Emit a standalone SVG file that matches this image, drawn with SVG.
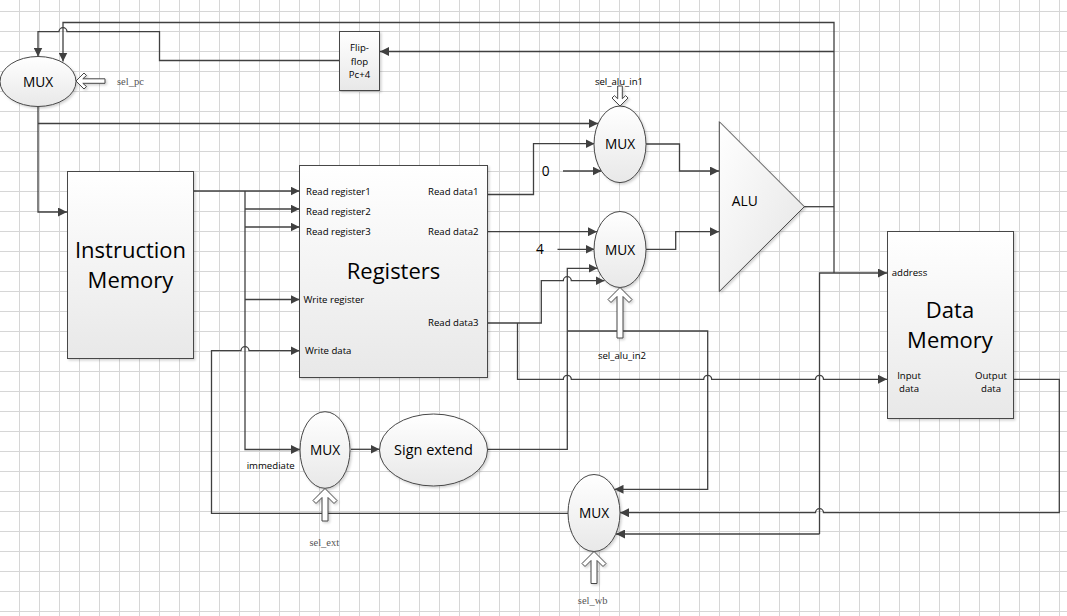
<svg xmlns="http://www.w3.org/2000/svg" width="1067" height="616" viewBox="0 0 1067 616">
<defs>
<pattern id="grid" width="20" height="20" patternUnits="userSpaceOnUse" x="19" y="11">
<rect x="0" y="0" width="1" height="20" fill="#d6d6d6"/>
<rect x="0" y="0" width="20" height="1" fill="#d6d6d6"/>
</pattern>
<linearGradient id="gv" x1="0" y1="0" x2="0" y2="1">
<stop offset="0" stop-color="#ffffff"/>
<stop offset="1" stop-color="#e8e8e8"/>
</linearGradient>
<linearGradient id="gd" x1="0" y1="0" x2="1" y2="1">
<stop offset="0" stop-color="#ffffff"/>
<stop offset="1" stop-color="#e4e4e4"/>
</linearGradient>
<filter id="sh" x="-10%" y="-10%" width="130%" height="130%">
<feDropShadow dx="1.5" dy="1.5" stdDeviation="1" flood-color="#000" flood-opacity="0.18"/>
</filter>
<marker id="ar" markerWidth="10" markerHeight="9" refX="9" refY="4.5" orient="auto" markerUnits="userSpaceOnUse">
<path d="M0,0 L9,4.5 L0,9 Z" fill="#404040"/>
</marker>
<style>
.con{fill:none;stroke:#404040;stroke-width:1.3}
.arr{marker-end:url(#ar)}
.shape{fill:url(#gv);stroke:#474747;stroke-width:1;filter:url(#sh)}
.hol{fill:#ffffff;stroke:#474747;stroke-width:1;filter:url(#sh)}
text{font-family:"Open Sans","Noto Sans","Liberation Sans",sans-serif;fill:#000000}
.big{font-size:22px;text-anchor:middle}
.mux{font-size:13.7px;text-anchor:middle}
.sm{font-size:9.6px}
.smc{font-size:9.6px;text-anchor:middle}
.smr{font-size:9.6px;text-anchor:end}
.ser{font-family:"Liberation Serif","DejaVu Serif",serif;font-size:10.5px;fill:#555555}
</style>
</defs>
<rect x="0" y="0" width="1067" height="616" fill="#ffffff"/>
<rect x="0" y="0" width="1067" height="616" fill="url(#grid)"/>

<g id="connectors">
<path class="con" d="M804,206.7 H834"/>
<path class="con arr" d="M834,273 V22.5 H63 V61.5"/>
<path class="con arr" d="M819.5,534 V273 H887"/>
<path class="con arr" d="M819.5,534 H616"/>
<path class="con arr" d="M834,51.5 H380"/>
<path class="con arr" d="M339,60.5 H159.5 V31.7 H67 A4,4 0 0 0 59,31.7 H38 V56.5"/>
<path class="con arr" d="M38,106.5 V212 H67"/>
<path class="con arr" d="M38,123.5 H598"/>
<path class="con arr" d="M193.5,191 H299.5"/>
<path class="con arr" d="M245,191 V449.5 H300"/>
<path class="con arr" d="M245,209 H299.5"/>
<path class="con arr" d="M245,227 H299.5"/>
<path class="con arr" d="M245,299.5 H299.5"/>
<path class="con arr" d="M568,513.3 H211.5 V350.7 H241 A4,4 0 0 1 249,350.7 H299.5"/>
<path class="con arr" d="M487.5,194.5 H533.5 V143.7 H594.5"/>
<path class="con arr" d="M563,171 H601.5"/>
<path class="con arr" d="M646,144 H679.5 V171 H719"/>
<path class="con arr" d="M487.5,231.7 H597"/>
<path class="con arr" d="M557.5,249.3 H594.5"/>
<path class="con arr" d="M646,249.3 H675.7 V231.7 H719"/>
<path class="con arr" d="M487.5,323 H541.3 V280.7 H563.3 A4,4 0 0 1 571.3,280.7 H604.5"/>
<path class="con arr" d="M517.5,323 V379.3 H563.3 A4,4 0 0 1 571.3,379.3 H703.7 A4,4 0 0 1 711.7,379.3 H815.5 A4,4 0 0 1 823.5,379.3 H887"/>
<path class="con arr" d="M487.7,449.3 H567.3 V268.3 H597.5"/>
<path class="con arr" d="M567.3,331 H707.7 V489.3 H614.5"/>
<path class="con arr" d="M1013.5,379.3 H1059.3 V512.7 H823.5 A4,4 0 0 0 815.5,512.7 H620"/>
<path class="con arr" d="M351,449.3 H379.5"/>
</g>

<g id="mux-pc">
<ellipse class="shape" cx="38" cy="81.5" rx="38" ry="25"/>
<text class="mux" x="38" y="86.5">MUX</text>
</g>
<g id="sel-pc">
<path class="hol" d="M76,81 L84,73 L86.5,75.5 L82.8,78.8 H105 V83.3 H82.8 L86.5,86.5 L84,89 Z"/>
<text class="ser" x="117" y="84.5">sel_pc</text>
</g>

<g id="flipflop">
<rect class="shape" x="339.5" y="31.5" width="40" height="59"/>
<text class="smc" x="359.5" y="51">Flip-</text>
<text class="smc" x="359.5" y="64.5">flop</text>
<text class="smc" x="359.5" y="77.5">Pc+4</text>
</g>

<g id="instruction-memory">
<rect class="shape" x="67.5" y="171.5" width="126" height="187"/>
<text class="big" x="130.5" y="257.5">Instruction</text>
<text class="big" x="130.5" y="287.5">Memory</text>
</g>

<g id="registers">
<rect class="shape" x="299.5" y="165.5" width="188" height="212"/>
<text class="big" x="393.5" y="278.5">Registers</text>
<text class="sm" x="306" y="195">Read register1</text>
<text class="sm" x="306" y="215">Read register2</text>
<text class="sm" x="306" y="234.5">Read register3</text>
<text class="sm" x="303.5" y="302.5">Write register</text>
<text class="sm" x="305" y="354">Write data</text>
<text class="smr" x="478.5" y="195">Read data1</text>
<text class="smr" x="478.5" y="234.5">Read data2</text>
<text class="smr" x="478.5" y="325.5">Read data3</text>
</g>

<g id="mux-alu-in1">
<ellipse class="shape" cx="620" cy="144.3" rx="26" ry="38.3"/>
<text class="mux" x="620" y="149.3">MUX</text>
</g>
<g id="sel-alu-in1">
<path class="hol" d="M620,106 L628,98 L625.6,95.6 L622.3,98.8 V86 H617.7 V98.8 L614.4,95.6 L612,98 Z"/>
<text class="smc" x="619" y="85">sel_alu_in1</text>
</g>
<g id="const-0">
<text class="mux" x="545.7" y="176">0</text>
</g>

<g id="mux-alu-in2">
<ellipse class="shape" cx="620" cy="249.5" rx="26" ry="38"/>
<text class="mux" x="620" y="254.5">MUX</text>
</g>
<g id="sel-alu-in2">
<path class="hol" d="M620,287.5 L632,299.5 L629,302.5 L623,296.5 V338 H617 V296.5 L611,302.5 L608,299.5 Z"/>
<text class="smc" x="622" y="359">sel_alu_in2</text>
</g>
<g id="const-4">
<text class="mux" x="540" y="254">4</text>
</g>

<g id="alu">
<polygon points="719.3,121.7 804.3,206.7 719.3,291.5" fill="url(#gd)" stroke="#474747" stroke-width="1" filter="url(#sh)"/>
<text x="744.7" y="205.5" style="font-size:13.8px;text-anchor:middle">ALU</text>
</g>

<g id="data-memory">
<rect class="shape" x="887.5" y="231.5" width="126" height="187"/>
<text class="big" x="950" y="317.5">Data</text>
<text class="big" x="950" y="348">Memory</text>
<text class="sm" x="891.7" y="276">address</text>
<text class="smc" x="909" y="379">Input</text>
<text class="smc" x="909" y="391.5">data</text>
<text class="smc" x="991" y="379">Output</text>
<text class="smc" x="991" y="391.5">data</text>
</g>

<g id="mux-ext">
<ellipse class="shape" cx="325" cy="450" rx="25" ry="38.3"/>
<text class="mux" x="325" y="455">MUX</text>
<text class="sm" x="246.7" y="468.5">immediate</text>
</g>
<g id="sel-ext">
<path class="hol" d="M325,488.5 L337,500.5 L334,503.5 L328,497.5 V521 H322 V497.5 L316,503.5 L313,500.5 Z"/>
<text class="ser" x="324.3" y="546" text-anchor="middle">sel_ext</text>
</g>

<g id="sign-extend">
<ellipse class="shape" cx="433.5" cy="450" rx="54" ry="36"/>
<text x="433.5" y="455" style="font-size:14.5px;text-anchor:middle">Sign extend</text>
</g>

<g id="mux-wb">
<ellipse class="shape" cx="594" cy="513" rx="26" ry="38.5"/>
<text class="mux" x="594" y="518">MUX</text>
</g>
<g id="sel-wb">
<path class="hol" d="M594,551.5 L606,563.5 L603,566.5 L597,560.5 V583.5 H591 V560.5 L585,566.5 L582,563.5 Z"/>
<text class="ser" x="592.7" y="604" text-anchor="middle">sel_wb</text>
</g>
</svg>
